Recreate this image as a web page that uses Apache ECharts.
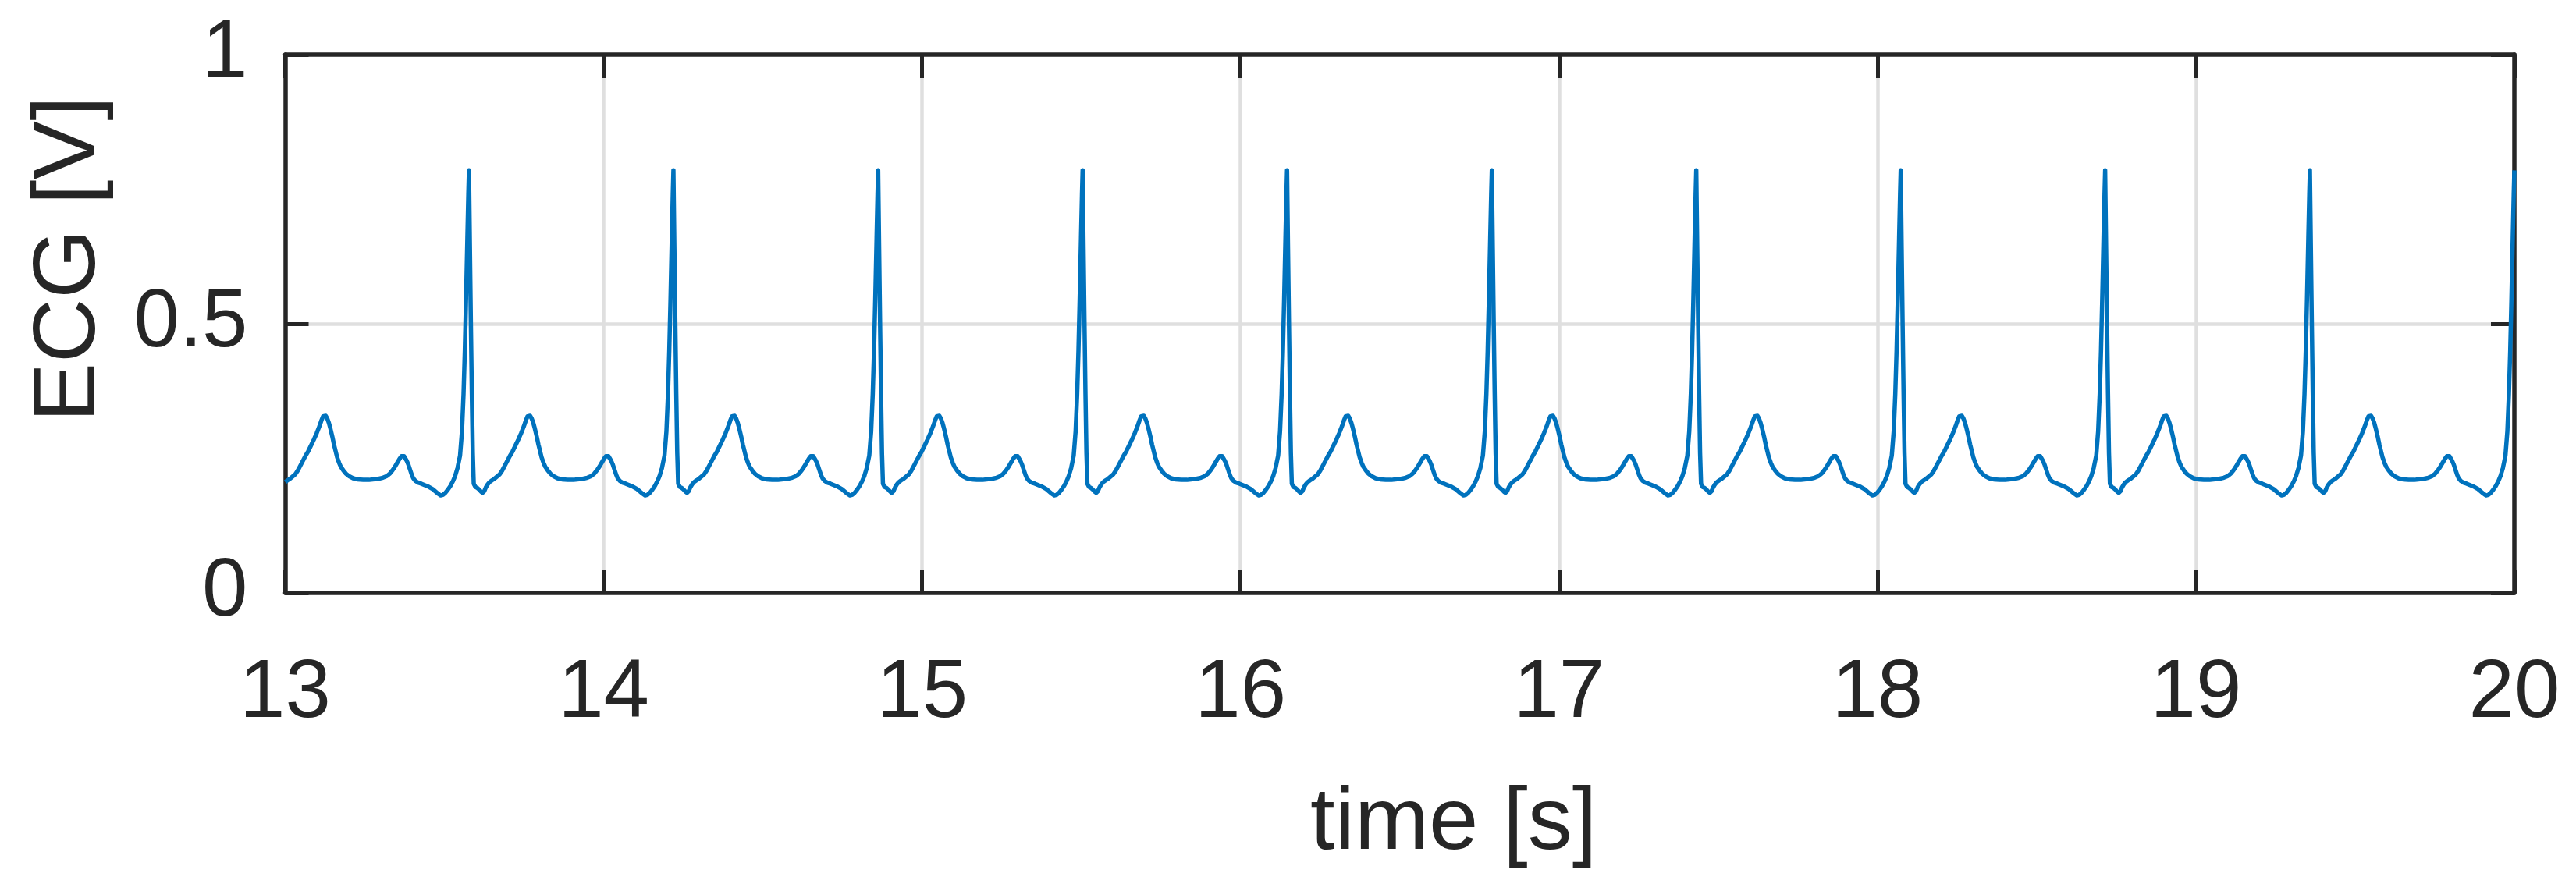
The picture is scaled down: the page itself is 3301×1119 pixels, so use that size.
<!DOCTYPE html>
<html>
<head>
<meta charset="utf-8">
<script src="https://cdn.jsdelivr.net/npm/echarts@6/dist/echarts.min.js"></script>
<style>
html,body{margin:0;padding:0;background:#fff;}
#chart{width:3301px;height:1119px;}
</style>
</head>
<body>
<div id="chart"></div>
<script>
// Axis ticks
const xTicks = [13, 14, 15, 16, 17, 18, 19, 20];
const yTicks = [0, 0.5, 1];

// Times of the R peaks (s) (the first one lies just before the window)
const rPeakTimes = [12.935, 13.577, 14.219, 14.862, 15.504, 16.146, 16.789, 17.431, 18.073, 18.715, 19.358, 20.000];

// One heartbeat: time offset from the R peak (s) and ECG value (V)
const beatOffsets = [
  -0.300, -0.285, -0.270, -0.258, -0.248, -0.240, -0.232, -0.225, -0.218, -0.212,
  -0.208, -0.204, -0.200, -0.195, -0.190, -0.185, -0.180, -0.175, -0.168, -0.160,
  -0.150, -0.138, -0.126, -0.114, -0.104, -0.096, -0.089, -0.082, -0.074, -0.066,
  -0.058, -0.050, -0.043, -0.036, -0.028, -0.022, -0.017, -0.013, -0.009, -0.005,
  -0.002,
  0.000, 0.003, 0.006, 0.009, 0.012, 0.015, 0.020, 0.026, 0.032, 0.038,
  0.043, 0.048, 0.053, 0.058, 0.065, 0.072, 0.080, 0.088, 0.096, 0.104,
  0.112, 0.120, 0.128, 0.137, 0.146, 0.155, 0.164, 0.172, 0.179, 0.184,
  0.188, 0.192, 0.197, 0.202, 0.207, 0.213, 0.218, 0.223, 0.228, 0.234,
  0.240, 0.247, 0.255, 0.265, 0.278, 0.292, 0.310, 0.328, 0.340
];
const beatValues = [
  0.211, 0.212, 0.214, 0.217, 0.222, 0.228, 0.235, 0.242, 0.249, 0.254,
  0.256, 0.254, 0.250, 0.245, 0.238, 0.229, 0.220, 0.213, 0.208, 0.205,
  0.203, 0.200, 0.197, 0.193, 0.188, 0.184, 0.181, 0.182, 0.186, 0.192,
  0.199, 0.208, 0.218, 0.232, 0.255, 0.300, 0.370, 0.450, 0.550, 0.660,
  0.740,
  0.785, 0.640, 0.500, 0.370, 0.260, 0.203, 0.197, 0.195, 0.192, 0.188,
  0.186, 0.189, 0.196, 0.201, 0.206, 0.209, 0.212, 0.216, 0.220, 0.227,
  0.236, 0.245, 0.254, 0.263, 0.274, 0.285, 0.297, 0.309, 0.321, 0.328,
  0.330, 0.329, 0.324, 0.316, 0.305, 0.290, 0.276, 0.264, 0.252, 0.242,
  0.234, 0.228, 0.222, 0.217, 0.213, 0.211, 0.210, 0.210, 0.211
];

const X_MIN = xTicks[0], X_MAX = xTicks[xTicks.length - 1];
const ecgData = [];
rPeakTimes.forEach(function (r) {
  beatOffsets.forEach(function (off, i) {
    const t = r + off;
    if (t >= X_MIN - 0.0005 && t <= X_MAX + 0.0005) {
      ecgData.push([Math.min(Math.max(t, X_MIN), X_MAX), beatValues[i]]);
    }
  });
});

const FONT = '"Liberation Sans", Arial, Helvetica, sans-serif';
const INK = '#262626';
const GRID = '#dfdfdf';
const AXW = 5.5;

const chart = echarts.init(document.getElementById('chart'), null, {renderer: 'canvas', width: 3301, height: 1119});

const baseX = {
  type: 'value', min: X_MIN, max: X_MAX, interval: 1,
  axisLine: {show: true, onZero: false, lineStyle: {color: INK, width: AXW}},
  axisTick: {show: true, inside: true, length: 30, lineStyle: {color: INK, width: 5}},
  splitLine: {show: false},
  axisLabel: {show: false}
};
const baseY = {
  type: 'value', min: yTicks[0], max: yTicks[yTicks.length - 1], interval: 0.5,
  axisLine: {show: true, onZero: false, lineStyle: {color: INK, width: AXW}},
  axisTick: {show: true, inside: true, length: 30, lineStyle: {color: INK, width: 5}},
  splitLine: {show: false},
  axisLabel: {show: false}
};

chart.setOption({
  animation: false,
  backgroundColor: '#ffffff',
  grid: {left: 365.5, right: 79, top: 70, bottom: 351, containLabel: false},
  xAxis: [
    Object.assign({}, baseX, {
      position: 'bottom',
      name: 'time [s]',
      nameLocation: 'middle',
      nameGap: 240,
      nameTextStyle: {fontFamily: FONT, fontSize: 114, lineHeight: 114, color: INK, padding: [0, 0, 0, 138]},
      splitLine: {show: true, showMinLine: false, showMaxLine: false, lineStyle: {color: GRID, width: 4.5}},
      axisLabel: {show: true, margin: 78, fontFamily: FONT, fontSize: 105, lineHeight: 105, color: INK,
        formatter: function (v) { return String(v); }}
    }),
    Object.assign({}, baseX, {position: 'top'})
  ],
  yAxis: [
    Object.assign({}, baseY, {
      position: 'left',
      name: 'ECG [V]',
      nameLocation: 'middle',
      nameGap: 219,
      nameTextStyle: {fontFamily: FONT, fontSize: 114, lineHeight: 114, color: INK, padding: [0, 0, 0, 166]},
      splitLine: {show: true, showMinLine: false, showMaxLine: false, lineStyle: {color: GRID, width: 4.5}},
      axisLabel: {show: true, margin: 48, fontFamily: FONT, fontSize: 105, lineHeight: 105, color: INK,
        padding: [16, 0, 0, 0],
        formatter: function (v) { return String(v); }}
    }),
    Object.assign({}, baseY, {position: 'right'})
  ],
  series: [{
    type: 'line',
    xAxisIndex: 0,
    yAxisIndex: 0,
    data: ecgData,
    showSymbol: false,
    symbol: 'none',
    clip: false,
    smooth: false,
    lineStyle: {color: '#0072BD', width: 5.5, join: 'round'},
    z: 5
  }]
});
</script>
</body>
</html>
